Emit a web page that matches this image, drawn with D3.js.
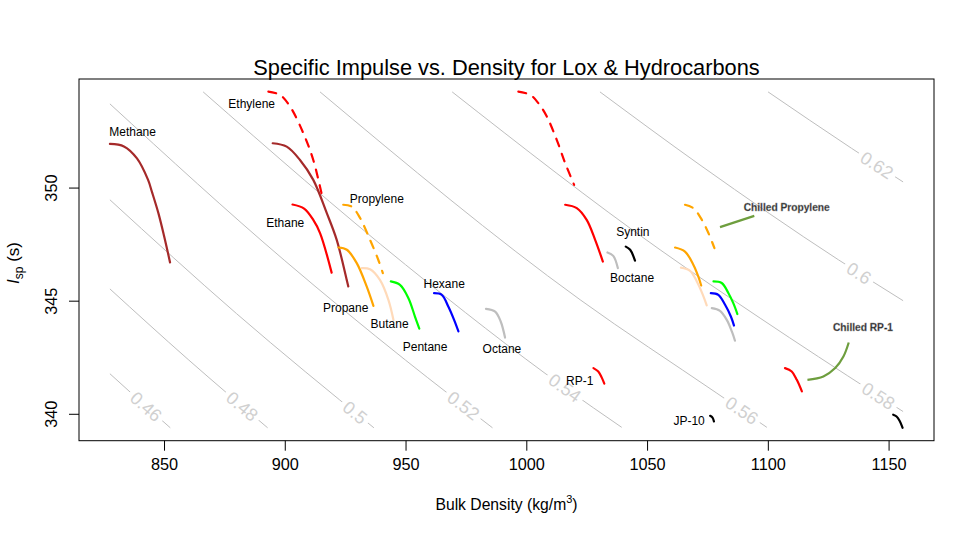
<!DOCTYPE html>
<html><head><meta charset="utf-8">
<script src="https://cdn.jsdelivr.net/npm/d3@7"></script>
<style>
html,body{margin:0;padding:0;background:#fff;}
svg{display:block;font-family:"Liberation Sans",Arial,Helvetica,sans-serif;}
</style></head>
<body><svg id="chart" width="975" height="539"></svg>
<script>
// ---------------- DATA ----------------
const densityTicks = [850, 900, 950, 1000, 1050, 1100, 1150];
const ispTicks = [340, 345, 350];
const densityDomain = [814.8, 1168.8];
const ispDomain = [338.81, 354.80];

// constant-value contours: [bulk density, Isp]
const contourLevels = ["0.46", "0.48", "0.5", "0.52", "0.54", "0.56", "0.58", "0.6", "0.62"];
const contour046 = [[827.6, 341.77], [840, 340.57], [852.6, 339.38]];
const contour048 = [[827.6, 345.52], [860, 342.40], [892.9, 339.38]];
const contour050 = [[827.6, 349.46], [880, 344.43], [936.9, 339.38]];
const contour052 = [[827.6, 353.70], [900, 346.77], [950, 342.37], [986.0, 339.38]];
const contour054 = [[866.2, 354.23], [950, 346.59], [1016.0, 341.15], [1039.5, 339.40]];
const contour056 = [[914.6, 354.23], [1022.3, 345.04], [1078.9, 340.91], [1099.6, 339.40]];
const contour058 = [[969.3, 354.23], [1055.4, 347.25], [1096.8, 344.23], [1145.2, 340.84], [1156.0, 340.10]];
const contour060 = [[1030.5, 354.23], [1071.9, 351.00], [1129.2, 346.81], [1156.0, 345.00]];
const contour062 = [[1100.1, 354.23], [1134.6, 351.74], [1156.0, 350.25]];
const contourLabelDensity = [842.6, 882.4, 929.1, 974.0, 1016.0, 1089.3, 1145.8, 1137.8, 1145.2];

// propellant curves: [bulk density, Isp]
const methane = [[827.6,351.93],[833.4,351.82],[838.8,351.29],[843.4,350.34],[845.0,349.81],[847.7,348.86],[850.0,347.87],[852.5,346.69]];
const ethylene = [[893.2,354.24],[898.0,354.10],[902.2,353.58],[907.7,352.40],[911.8,351.22],[915.3,349.70]];
const methane2 = [[895.0,351.96],[900.8,351.81],[906.3,351.22],[911.8,350.34],[917.4,348.87],[921.5,347.69],[925.65,345.92],[926.3,345.63]];
const ethane = [[903.2,349.25],[908.0,349.07],[911.8,348.57],[914.6,347.99],[919.4,346.24]];
const propylene = [[924.2,349.24],[927.7,349.16],[931.2,348.65],[935.3,347.69],[938.7,346.81],[940.6,346.22]];
const propane = [[922.2,347.35],[925.7,347.25],[929.8,346.66],[933.9,345.63],[936.7,344.77]];
const butane = [[931.9,346.44],[935.3,346.39],[939.4,345.92],[942.9,345.04],[945.0,344.15]];
const pentane = [[943.9,345.85],[947.7,345.70],[951.2,345.11],[953.9,344.30],[955.7,343.76]];
const hexane = [[961.8,345.33],[965.0,345.26],[967.7,344.74],[970.1,344.15],[971.9,343.64]];
const octane = [[983.3,344.64],[987.1,344.52],[989.4,344.08],[991.2,343.37]];
const ethylene2 = [[996.7,354.24],[1001.6,354.10],[1005.0,353.73],[1008.5,353.14],[1012.6,352.11],[1016.1,351.08],[1019.8,350.12]];
const ethane2 = [[1016.1,349.24],[1020.9,349.09],[1025.0,348.57],[1028.5,347.69],[1031.7,346.73]];
const boctane = [[1033.6,347.13],[1036.0,346.98],[1037.9,346.44]];
const syntin = [[1041.2,347.39],[1043.0,347.25],[1045.0,346.77]];
const rp1 = [[1027.8,342.02],[1029.8,341.87],[1031.2,341.61],[1032.3,341.33]];
const jp10 = [[1076.1,339.91],[1077.1,339.83],[1077.7,339.66]];
const propylene2 = [[1065.7,349.24],[1069.2,349.09],[1072.7,348.57],[1075.4,347.99],[1077.9,347.32]];
const propane2 = [[1061.6,347.35],[1065.7,347.17],[1069.2,346.58],[1071.2,346.07],[1072.4,345.67]];
const butane2 = [[1064.0,346.46],[1067.8,346.32],[1070.6,345.85],[1073.1,345.26],[1074.7,344.79]];
const pentane2 = [[1077.5,345.85],[1080.9,345.78],[1083.7,345.33],[1085.7,344.89],[1087.4,344.41]];
const hexane2 = [[1076.4,345.33],[1079.5,345.26],[1082.3,344.82],[1084.7,344.30],[1086.0,343.90]];
const octane2 = [[1076.8,344.67],[1080.2,344.55],[1083.0,344.15],[1085.1,343.64],[1086.4,343.23]];
const rp1Chilled = [[1107.1,342.02],[1109.9,341.87],[1112.0,341.50],[1114.1,340.99]];
const jp10Chilled = [[1151.9,339.96],[1153.3,339.88],[1154.6,339.68],[1155.8,339.38]];

// annotation leader lines
const chilledPropyleneLeader = [[1080.2,348.25],[1094.4,348.75]];
const chilledRp1Leader = [[1116.4,341.50],[1123.0,341.65],[1127.9,342.02],[1131.3,342.53],[1133.5,343.15]];

// curve labels
const labelNames = ["Methane","Ethylene","Ethane","Propylene","Propane","Butane","Pentane","Hexane","Octane","Syntin","Boctane","RP-1","JP-10"];
const labelDensity = [837.0, 886.3, 900.2, 938.1, 925.2, 943.4, 958.1, 966.0, 989.9, 1044.1, 1043.8, 1022.1, 1067.4];
const labelIsp = [352.46, 353.70, 348.46, 349.50, 344.68, 343.99, 342.97, 345.74, 342.89, 348.04, 346.01, 341.48, 339.69];

const noteNames = ["Chilled Propylene", "Chilled RP-1"];
const noteDensity = [1107.8, 1139.4];
const noteIsp = [349.12, 343.80];

// ---------------- STYLES ----------------
const contourData = [contour046, contour048, contour050, contour052, contour054, contour056, contour058, contour060, contour062];
const curves = [
  {d: methane, c: "#A52A2A"}, {d: methane2, c: "#A52A2A"},
  {d: ethylene, c: "#FF0000", dash: true}, {d: ethane, c: "#FF0000"},
  {d: propylene, c: "#FFA500", dash: true}, {d: propane, c: "#FFA500"},
  {d: butane, c: "#FFDAB9"}, {d: pentane, c: "#00FF00"}, {d: hexane, c: "#0000FF"},
  {d: octane, c: "#BEBEBE"},
  {d: ethylene2, c: "#FF0000", dash: true}, {d: ethane2, c: "#FF0000"},
  {d: boctane, c: "#BEBEBE"}, {d: syntin, c: "#000000"},
  {d: rp1, c: "#FF0000"}, {d: jp10, c: "#000000"},
  {d: propylene2, c: "#FFA500", dash: true}, {d: propane2, c: "#FFA500"},
  {d: butane2, c: "#FFDAB9"}, {d: pentane2, c: "#00FF00"}, {d: hexane2, c: "#0000FF"},
  {d: octane2, c: "#BEBEBE"},
  {d: rp1Chilled, c: "#FF0000"}, {d: jp10Chilled, c: "#000000"}
];
const leaderColor = "#6E9E3E";

// ---------------- DRAW ----------------
const svg = d3.select("#chart");
const L = 79, R = 934, T = 79, B = 440.7;
const x = d3.scaleLinear().domain(densityDomain).range([L, R]);
const y = d3.scaleLinear().domain(ispDomain).range([B, T]);

const line = d3.line().x(d => x(d[0])).y(d => y(d[1])).curve(d3.curveMonotoneX);
const smooth = d3.line().x(d => x(d[0])).y(d => y(d[1])).curve(d3.curveCatmullRom.alpha(0.5));

// contours
const cg = svg.append("g");
const clab = svg.append("g");
contourData.forEach((pts, i) => {
  const p = cg.append("path").datum(pts).attr("d", line)
    .attr("fill", "none").attr("stroke", "#BEBEBE").attr("stroke-width", 1);
  const node = p.node();
  const len = node.getTotalLength();
  const tx = x(contourLabelDensity[i]);
  let lo = 0, hi = len;
  for (let k = 0; k < 40; k++) {
    const mid = (lo + hi) / 2;
    if (node.getPointAtLength(mid).x < tx) lo = mid; else hi = mid;
  }
  const pt = node.getPointAtLength(lo);
  const a = node.getPointAtLength(Math.max(0, lo - 5));
  const b = node.getPointAtLength(Math.min(len, lo + 5));
  const ang = Math.atan2(b.y - a.y, b.x - a.x) * 180 / Math.PI;
  const g = clab.append("g").attr("transform", `translate(${pt.x},${pt.y}) rotate(${ang})`);
  const t = g.append("text").text(contourLevels[i])
    .attr("text-anchor", "middle").attr("dy", "0.36em")
    .attr("font-size", 18).attr("fill", "#D0D0D0");
  const w = t.node().getComputedTextLength();
  g.insert("rect", "text").attr("x", -w / 2 - 4).attr("y", -7).attr("width", w + 8).attr("height", 14).attr("fill", "#fff");
});

// propellant curves
svg.append("g").selectAll("path").data(curves).join("path")
  .attr("d", d => smooth(d.d))
  .attr("fill", "none")
  .attr("stroke", d => d.c)
  .attr("stroke-width", 2.2)
  .attr("stroke-linecap", "round")
  .attr("stroke-dasharray", d => d.dash ? "8,8" : null);

// leaders
svg.append("path").datum(chilledPropyleneLeader).attr("d", line)
  .attr("fill", "none").attr("stroke", leaderColor).attr("stroke-width", 2.2);
svg.append("path").datum(chilledRp1Leader).attr("d", smooth)
  .attr("fill", "none").attr("stroke", leaderColor).attr("stroke-width", 2.2);

// curve labels
svg.append("g").selectAll("text").data(labelNames).join("text")
  .attr("x", (d, i) => x(labelDensity[i]))
  .attr("y", (d, i) => y(labelIsp[i]))
  .attr("dy", "0.36em")
  .attr("text-anchor", "middle")
  .attr("font-size", 12)
  .attr("fill", "#000")
  .text(d => d);

// note labels
svg.append("g").selectAll("text").data(noteNames).join("text")
  .attr("x", (d, i) => x(noteDensity[i]))
  .attr("y", (d, i) => y(noteIsp[i]))
  .attr("dy", "0.36em")
  .attr("text-anchor", "middle")
  .attr("font-size", 10.2)
  .attr("font-weight", "bold")
  .attr("fill", "#222")
  .attr("stroke", "#999").attr("stroke-width", 0.35)
  .text(d => d);

// box
svg.append("rect").attr("x", L).attr("y", T).attr("width", R - L).attr("height", B - T)
  .attr("fill", "none").attr("stroke", "#000").attr("stroke-width", 1);

// axes
const xa = svg.append("g").attr("transform", `translate(0,${B})`)
  .call(d3.axisBottom(x).tickValues(densityTicks).tickSize(10).tickPadding(8).tickFormat(d3.format("d")));
xa.select(".domain").remove();
xa.selectAll("text").attr("font-size", 16.3).attr("fill", "#000").attr("font-family", null);
xa.selectAll("line").attr("stroke", "#000");

const ya = svg.append("g").attr("transform", `translate(${L},0)`)
  .call(d3.axisLeft(y).tickValues(ispTicks).tickSize(10).tickFormat(d3.format("d")));
ya.select(".domain").remove();
ya.selectAll("line").attr("stroke", "#000");
ya.selectAll("text").attr("transform", "rotate(-90)").attr("x", 0).attr("y", -22).attr("dy", 0)
  .attr("text-anchor", "middle").attr("font-size", 16.3).attr("fill", "#000").attr("font-family", null);

// title
svg.append("text").attr("x", (L + R) / 2).attr("y", 75).attr("text-anchor", "middle")
  .attr("font-size", 21.8).attr("fill", "#000")
  .text("Specific Impulse vs. Density for Lox & Hydrocarbons");

// x title
const xt = svg.append("text").attr("x", (L + R) / 2).attr("y", 510).attr("text-anchor", "middle")
  .attr("font-size", 15.7).attr("fill", "#000");
xt.append("tspan").text("Bulk Density (kg/m");
xt.append("tspan").attr("dy", -7).attr("font-size", 11).text("3");
xt.append("tspan").attr("dy", 7).text(")");

// y title
const yt = svg.append("text").attr("transform", "translate(19,263) rotate(-90)")
  .attr("text-anchor", "middle").attr("font-size", 17).attr("fill", "#000");
yt.append("tspan").attr("font-style", "italic").text("I");
yt.append("tspan").attr("dy", 4).attr("font-size", 12).text("sp");
yt.append("tspan").attr("dy", -4).text(" (s)");
</script></body></html>
